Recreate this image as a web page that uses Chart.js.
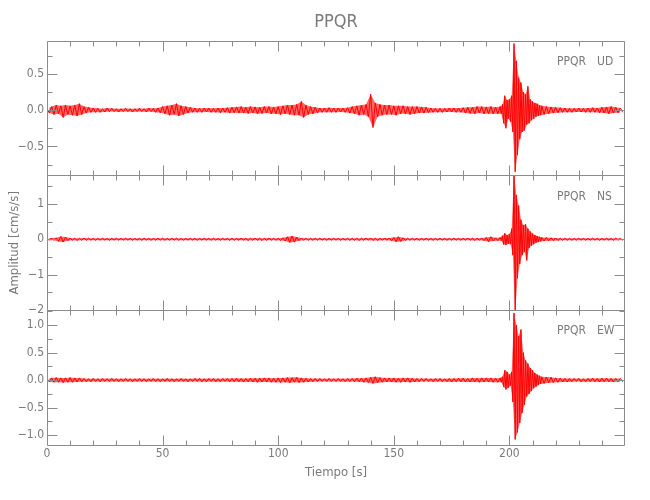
<!DOCTYPE html>
<html lang="es">
<head>
<meta charset="UTF-8">
<title>PPQR</title>
<script src="https://cdn.jsdelivr.net/npm/chart.js"></script>
<style>
  body { margin: 0; background: #fff; }
  #contenedor { width: 650px; height: 500px; }
</style>
</head>
<body>
<div id="contenedor"><canvas id="sismo"></canvas></div>
<script>
// muestreo: 1 s fuera del evento, 0.5 s durante el evento (196.5 - 214 s)
const dtFondo = 1;
const dtEvento = 0.5;
const inicioEvento = 196.5;
const inicioCola = 215;

const estacion = 'PPQR';
const componentes = ['UD', 'NS', 'EW'];

// ---- UD ----
const udAntes = [
  0.02, -0.04, 0.05, -0.06, 0.07, -0.05, 0.06, -0.10, 0.07, -0.06,
  0.06, -0.07, 0.07, -0.08, 0.09, -0.06, 0.05, -0.04, 0.04, -0.03,
  0.03, -0.03, 0.025, -0.03, 0.02, -0.025, 0.03, -0.02, 0.025, -0.02,
  0.02, -0.025, 0.02, -0.02, 0.025, -0.02, 0.02, -0.025, 0.02, -0.02,
  0.025, -0.02, 0.02, -0.025, 0.03, -0.02, 0.025, -0.03, 0.03, -0.035,
  0.05, -0.05, 0.06, -0.07, 0.07, -0.06, 0.09, -0.08, 0.06, -0.06,
  0.05, -0.04, 0.04, -0.03, 0.03, -0.03, 0.025, -0.03, 0.03, -0.025,
  0.03, -0.03, 0.025, -0.03, 0.03, -0.035, 0.03, -0.03, 0.035, -0.04,
  0.04, -0.035, 0.045, -0.04, 0.05, -0.04, 0.04, -0.045, 0.05, -0.04,
  0.045, -0.05, 0.04, -0.045, 0.05, -0.04, 0.05, -0.05, 0.045, -0.05,
  0.05, -0.06, 0.06, -0.05, 0.07, -0.06, 0.07, -0.07, 0.08, -0.07,
  0.12, -0.10, 0.07, -0.06, 0.05, -0.05, 0.04, -0.035, 0.03, -0.03,
  0.03, -0.03, 0.035, -0.03, 0.03, -0.03, 0.03, -0.025, 0.03, -0.03,
  0.035, -0.04, 0.05, -0.05, 0.06, -0.07, 0.07, -0.06, 0.08, -0.09,
  0.22, -0.24, 0.10, -0.09, 0.08, -0.07, 0.07, -0.06, 0.07, -0.06,
  0.06, -0.07, 0.06, -0.05, 0.06, -0.05, 0.05, -0.06, 0.05, -0.05,
  0.05, -0.04, 0.045, -0.04, 0.04, -0.035, 0.03, -0.03, 0.025, -0.03,
  0.025, -0.03, 0.025, -0.025, 0.03, -0.025, 0.03, -0.03, 0.03, -0.03,
  0.035, -0.04, 0.04, -0.045, 0.04, -0.05, 0.05, -0.04, 0.05, -0.05,
  0.045, -0.05, 0.05, -0.05, 0.04, -0.05, 0.05
];
const udEvento = [
  -0.05, 0.08, -0.18, 0.20, -0.25, 0.14, -0.12, 0.15, -0.16, 0.20,
  -0.30, 0.92, -0.85, 0.68, -0.62, 0.45, -0.40, 0.38, -0.30, 0.25,
  -0.28, 0.22, -0.20, 0.33, -0.18, 0.15, -0.14, 0.12, -0.12, 0.10,
  -0.09, 0.09, -0.08, 0.07, -0.07, 0.06
];
const udDespues = [
  -0.06, 0.05, -0.05, 0.045, -0.04, 0.04, -0.035, 0.035, -0.03, 0.03,
  -0.03, 0.025, -0.03, 0.025, -0.025, 0.03, -0.025, 0.025, -0.03, 0.03,
  -0.03, 0.035, -0.03, 0.03, -0.035, 0.04, -0.04, 0.045, -0.05, 0.05,
  -0.04, 0.04, -0.035, 0.03, -0.03
];

// ---- NS ----
const nsAntes = [
  0.03, -0.03, 0.035, -0.03, 0.04, -0.06, 0.08, -0.08, 0.06, -0.04,
  0.035, -0.03, 0.03, -0.035, 0.03, -0.03, 0.035, -0.03, 0.03, -0.025,
  0.025, -0.03, 0.025, -0.025, 0.03, -0.025, 0.025, -0.03, 0.025, -0.025,
  0.03, -0.025, 0.025, -0.025, 0.03, -0.025, 0.025, -0.03, 0.025, -0.025,
  0.025, -0.03, 0.03, -0.025, 0.025, -0.03, 0.025, -0.025, 0.03, -0.025,
  0.03, -0.03, 0.025, -0.03, 0.03, -0.025, 0.03, -0.03, 0.025, -0.03,
  0.025, -0.025, 0.03, -0.025, 0.025, -0.03, 0.025, -0.025, 0.03, -0.025,
  0.025, -0.03, 0.03, -0.025, 0.025, -0.03, 0.03, -0.025, 0.025, -0.03,
  0.03, -0.03, 0.025, -0.03, 0.035, -0.03, 0.03, -0.035, 0.03, -0.03,
  0.035, -0.03, 0.03, -0.035, 0.03, -0.03, 0.035, -0.03, 0.03, -0.03,
  0.03, -0.035, 0.04, -0.05, 0.07, -0.09, 0.09, -0.08, 0.06, -0.04,
  0.035, -0.03, 0.03, -0.03, 0.025, -0.03, 0.03, -0.025, 0.03, -0.025,
  0.025, -0.03, 0.025, -0.025, 0.03, -0.025, 0.025, -0.03, 0.025, -0.025,
  0.03, -0.03, 0.025, -0.03, 0.03, -0.035, 0.03, -0.03, 0.035, -0.03,
  0.035, -0.035, 0.03, -0.035, 0.03, -0.03, 0.035, -0.03, 0.035, -0.04,
  0.05, -0.07, 0.07, -0.06, 0.04, -0.035, 0.03, -0.03, 0.03, -0.025,
  0.025, -0.03, 0.025, -0.025, 0.03, -0.025, 0.025, -0.03, 0.025, -0.025,
  0.03, -0.025, 0.025, -0.03, 0.025, -0.025, 0.03, -0.025, 0.025, -0.03,
  0.03, -0.03, 0.035, -0.03, 0.03, -0.035, 0.03, -0.03, 0.035, -0.04,
  0.05, -0.07, 0.07, -0.05, 0.04, -0.04, 0.05
];
const nsEvento = [
  -0.04, 0.10, -0.15, 0.17, -0.16, 0.12, -0.13, 0.15, -0.14, 0.30,
  -0.45, 1.88, -2.08, 1.25, -1.10, 0.95, -0.70, 0.55, -0.45, 0.40,
  -0.35, 0.42, -0.60, 0.30, -0.25, 0.22, -0.18, 0.16, -0.14, 0.12,
  -0.10, 0.09, -0.08, 0.07, -0.06, 0.05
];
const nsDespues = [
  -0.05, 0.05, -0.045, 0.04, -0.04, 0.035, -0.035, 0.03, -0.03, 0.03,
  -0.03, 0.025, -0.03, 0.025, -0.025, 0.03, -0.025, 0.025, -0.03, 0.025,
  -0.025, 0.03, -0.025, 0.025, -0.03, 0.025, -0.025, 0.03, -0.025, 0.025,
  -0.03, 0.03, -0.025, 0.025, -0.03
];

// ---- EW ----
const ewAntes = [
  0.03, -0.035, 0.04, -0.04, 0.045, -0.04, 0.04, -0.045, 0.04, -0.04,
  0.045, -0.04, 0.04, -0.035, 0.04, -0.03, 0.03, -0.03, 0.025, -0.03,
  0.03, -0.025, 0.025, -0.03, 0.03, -0.025, 0.025, -0.025, 0.03, -0.025,
  0.025, -0.03, 0.025, -0.025, 0.03, -0.025, 0.025, -0.03, 0.025, -0.025,
  0.03, -0.025, 0.025, -0.03, 0.025, -0.025, 0.03, -0.025, 0.025, -0.03,
  0.025, -0.025, 0.03, -0.025, 0.025, -0.03, 0.025, -0.025, 0.03, -0.025,
  0.025, -0.03, 0.025, -0.025, 0.03, -0.025, 0.03, -0.03, 0.025, -0.03,
  0.03, -0.025, 0.03, -0.03, 0.025, -0.03, 0.03, -0.025, 0.03, -0.03,
  0.03, -0.03, 0.035, -0.03, 0.03, -0.035, 0.03, -0.03, 0.035, -0.035,
  0.035, -0.04, 0.035, -0.035, 0.04, -0.035, 0.04, -0.04, 0.035, -0.04,
  0.04, -0.045, 0.04, -0.04, 0.045, -0.05, 0.045, -0.04, 0.05, -0.045,
  0.04, -0.04, 0.035, -0.035, 0.03, -0.03, 0.03, -0.025, 0.03, -0.025,
  0.025, -0.025, 0.03, -0.025, 0.025, -0.025, 0.03, -0.025, 0.025, -0.03,
  0.03, -0.025, 0.03, -0.03, 0.035, -0.03, 0.035, -0.04, 0.04, -0.045,
  0.05, -0.06, 0.06, -0.05, 0.045, -0.04, 0.04, -0.035, 0.04, -0.035,
  0.04, -0.04, 0.035, -0.04, 0.04, -0.035, 0.04, -0.04, 0.035, -0.035,
  0.03, -0.03, 0.03, -0.025, 0.03, -0.025, 0.025, -0.03, 0.03, -0.025,
  0.03, -0.03, 0.025, -0.03, 0.03, -0.035, 0.03, -0.03, 0.035, -0.03,
  0.035, -0.035, 0.03, -0.035, 0.04, -0.035, 0.035, -0.04, 0.04, -0.035,
  0.04, -0.035, 0.04, -0.04, 0.035, -0.04, 0.04
];
const ewEvento = [
  -0.04, 0.06, -0.12, 0.18, -0.17, 0.15, -0.14, 0.10, -0.10, 0.15,
  -0.40, 1.22, -1.08, 1.00, -0.95, 0.80, -0.78, 0.92, -0.60, 0.50,
  -0.45, 0.36, -0.30, 0.30, -0.25, 0.22, -0.20, 0.18, -0.15, 0.13,
  -0.12, 0.10, -0.09, 0.08, -0.07, 0.06
];
const ewDespues = [
  -0.06, 0.055, -0.05, 0.05, -0.045, 0.04, -0.04, 0.035, -0.035, 0.03,
  -0.035, 0.03, -0.03, 0.03, -0.025, 0.03, -0.03, 0.025, -0.03, 0.03,
  -0.03, 0.035, -0.03, 0.03, -0.035, 0.035, -0.03, 0.035, -0.03, 0.03,
  -0.035, 0.03, -0.03, 0.03, -0.03
];

function serie(antes, evento, despues) {
  const pts = [];
  antes.forEach((v, i) => pts.push({ x: i * dtFondo, y: v }));
  evento.forEach((v, i) => pts.push({ x: inicioEvento + i * dtEvento, y: v }));
  despues.forEach((v, i) => pts.push({ x: inicioCola + i * dtFondo, y: v }));
  return pts;
}

const grisTexto = '#7a7a7a';
const grisEje = '#8c8c8c';
const rojo = '#ff0000';
const rojoClaro = 'rgba(255, 0, 0, 0.6)';
const fuente = "'Liberation Sans Narrow', 'DejaVu Sans Condensed', 'Liberation Sans', sans-serif";
Chart.defaults.font.family = fuente;
Chart.defaults.color = grisTexto;

const menos = s => s.replace('-', '\u2212');

function ejeY(min, max, paso, decimales, titulo) {
  return {
    type: 'linear',
    position: 'left',
    stack: 'paneles',
    stackWeight: 1,
    min: min,
    max: max,
    afterFit: s => { s.width = 47; },
    grid: { display: false, drawTicks: false },
    border: { display: false },
    title: titulo ? {
      display: true, text: titulo, color: grisTexto,
      font: { size: 13 }, padding: { top: 7, bottom: 0 }
    } : { display: false },
    ticks: {
      stepSize: paso, includeBounds: false, autoSkip: false,
      padding: 3, color: grisTexto, font: { size: 12 },
      callback: v => menos(Number(v).toFixed(decimales))
    }
  };
}

// por componente: relleno entre envolventes (muestras + / -) y la traza encima
const trazas = {
  UD: serie(udAntes, udEvento, udDespues),
  NS: serie(nsAntes, nsEvento, nsDespues),
  EW: serie(ewAntes, ewEvento, ewDespues)
};
const datasets = [];
componentes.forEach(c => {
  datasets.push({
    label: c + ' sup', yAxisID: 'y' + c, fill: '+1',
    backgroundColor: rojoClaro, borderWidth: 0,
    data: trazas[c].filter(p => p.y >= 0)
  });
  datasets.push({
    label: c + ' inf', yAxisID: 'y' + c, fill: false, borderWidth: 0,
    data: trazas[c].filter(p => p.y < 0)
  });
  datasets.push({
    label: c, yAxisID: 'y' + c, fill: false,
    borderColor: rojo, borderWidth: 1,
    data: trazas[c]
  });
});

// pasos de las marcas de cada panel
const menores = { yUD: 0.25, yNS: 0.5, yEW: 0.25 };
const mayores = { yUD: 0.5, yNS: 1, yEW: 0.5 };

const marcos = {
  id: 'marcos',
  afterDraw(chart) {
    const ctx = chart.ctx;
    const xs = chart.scales.x;
    const L = Math.round(chart.chartArea.left) + 0.5;
    const R = Math.round(chart.chartArea.right) - 0.5;
    ctx.save();
    ctx.strokeStyle = grisEje;
    ctx.lineWidth = 1;
    componentes.forEach(c => {
      const id = 'y' + c;
      const ys = chart.scales[id];
      const T = Math.round(ys.top) + 0.5;
      const B = Math.round(ys.bottom) + 0.5;
      ctx.beginPath();
      ctx.rect(L, T, R - L, B - T);
      // marcas del eje y, a izquierda y derecha
      const paso = menores[id];
      for (let k = Math.ceil(ys.min / paso); k * paso <= ys.max + 1e-9; k++) {
        const v = k * paso;
        const r = v / mayores[id];
        const len = Math.abs(r - Math.round(r)) < 1e-6 ? 10 : 5;
        const y = Math.round(ys.getPixelForValue(v)) + 0.5;
        ctx.moveTo(L, y); ctx.lineTo(L + len, y);
        ctx.moveTo(R, y); ctx.lineTo(R - len, y);
      }
      // marcas del eje x, arriba y abajo de cada panel
      for (let t = 10; t < xs.max; t += 10) {
        const len = t % 50 === 0 ? 10 : 5;
        const x = Math.round(xs.getPixelForValue(t)) + 0.5;
        ctx.moveTo(x, T); ctx.lineTo(x, T + len);
        ctx.moveTo(x, B); ctx.lineTo(x, B - len);
      }
      ctx.stroke();
      // rotulo estacion / componente
      ctx.fillStyle = grisTexto;
      ctx.font = '12px ' + fuente;
      ctx.textBaseline = 'middle';
      ctx.textAlign = 'left';
      ctx.fillText(estacion, xs.getPixelForValue(220.6), ys.top + 21);
      ctx.fillText(c, xs.getPixelForValue(237.9), ys.top + 21);
    });
    ctx.restore();
  }
};

new Chart(document.getElementById('sismo'), {
  type: 'line',
  data: { datasets: datasets },
  options: {
    responsive: true,
    maintainAspectRatio: false,
    animation: false,
    layout: { padding: { left: 0, right: 25, top: 0, bottom: 0 } },
    elements: {
      line: { tension: 0 },
      point: { radius: 0 }
    },
    plugins: {
      legend: { display: false },
      tooltip: { enabled: false },
      title: {
        display: true, text: estacion, color: grisTexto, fullSize: false,
        font: { size: 18, weight: 'normal' }, padding: { top: 12, bottom: 7 }
      }
    },
    scales: {
      x: {
        type: 'linear',
        min: 0,
        max: 250,
        afterFit: s => { s.height = 55; },
        grid: { display: false, drawTicks: false },
        border: { display: false },
        ticks: {
          stepSize: 50, includeBounds: false, maxRotation: 0,
          padding: 2, color: grisTexto, font: { size: 12 },
          callback: v => (v > 240 ? '' : v)
        },
        title: {
          display: true, text: 'Tiempo [s]', color: grisTexto,
          font: { size: 13 }, padding: { top: 0, bottom: 20 }
        }
      },
      // los ejes apilados se colocan de abajo hacia arriba
      yEW: ejeY(-1.18, 1.27, 0.5, 1),
      yNS: ejeY(-2.0, 1.8, 1, 0, 'Amplitud [cm/s/s]'),
      yUD: ejeY(-0.9, 0.96, 0.5, 1)
    }
  },
  plugins: [marcos]
});
</script>
</body>
</html>
